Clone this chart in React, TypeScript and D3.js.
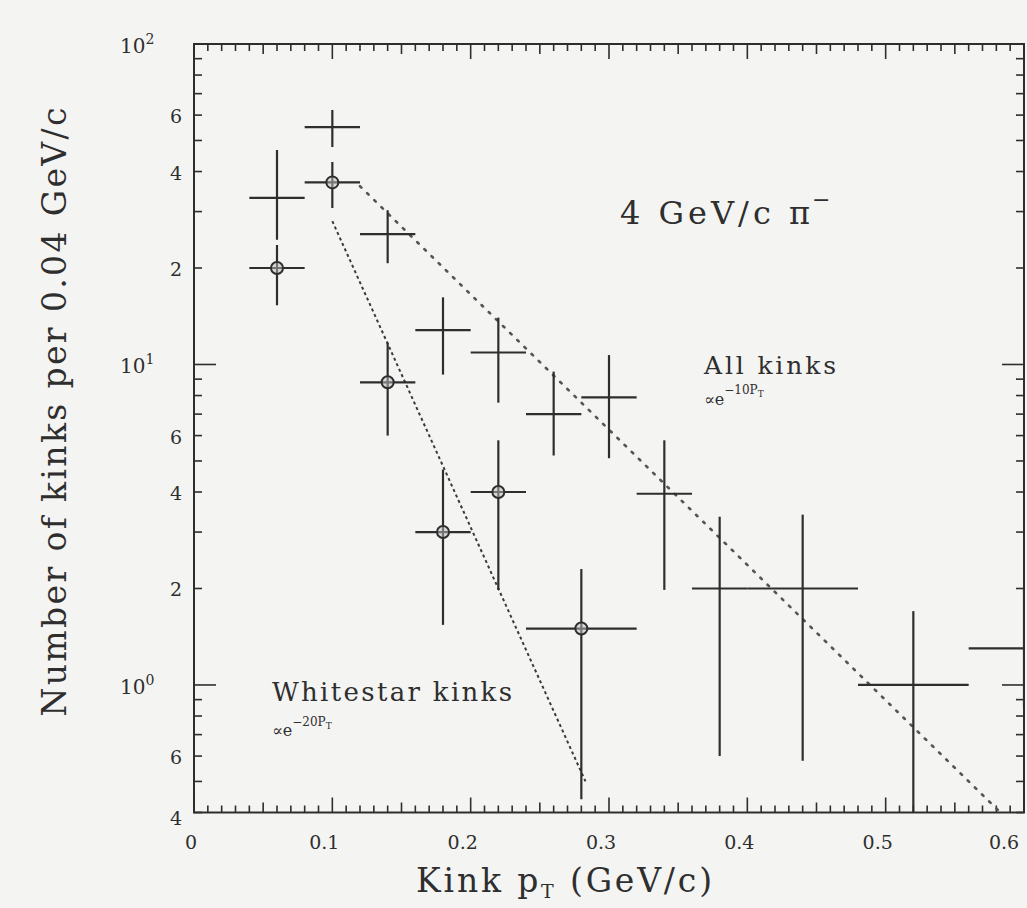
import React from "react";
import * as d3 from "d3";

// All kinks (crosses)
const allX = [0.06, 0.10, 0.14, 0.18, 0.22, 0.26, 0.30, 0.34, 0.38, 0.44, 0.52, 0.60];
const allXLo = [0.04, 0.08, 0.12, 0.16, 0.20, 0.24, 0.28, 0.32, 0.36, 0.40, 0.48, 0.56];
const allXHi = [0.08, 0.12, 0.16, 0.20, 0.24, 0.28, 0.32, 0.36, 0.40, 0.48, 0.56, 0.64];
const allY = [33.1, 55, 25.5, 12.8, 10.9, 7.0, 7.9, 3.95, 2.0, 2.0, 1.0, 1.3];
const allYLo = [24.5, 47.7, 20.7, 9.3, 7.6, 5.2, 5.1, 1.98, 0.6, 0.58, 0.38, 0.85];
const allYHi = [46.7, 62.2, 30.3, 16.2, 14.0, 9.5, 10.7, 5.8, 3.35, 3.4, 1.7, 2.0];

// Whitestar kinks (circles)
const wsX = [0.06, 0.10, 0.14, 0.18, 0.22, 0.28];
const wsXLo = [0.04, 0.08, 0.12, 0.16, 0.20, 0.24];
const wsXHi = [0.08, 0.12, 0.16, 0.20, 0.24, 0.32];
const wsY = [20, 37, 8.8, 3.0, 4.0, 1.5];
const wsYLo = [15.3, 30.8, 6.0, 1.54, 1.98, 0.44];
const wsYHi = [23.6, 42.8, 11.7, 4.7, 5.8, 2.3];

// Fit lines (end points, straight on log scale)
const fitAllX = [0.12, 0.583];
const fitAllY = [36, 0.4];
const fitWsX = [0.10, 0.283];
const fitWsY = [28, 0.5];

// Axis ticks
const xTickValues = [0, 0.1, 0.2, 0.3, 0.4, 0.5, 0.6];
const xTickLabels = ["0", "0.1", "0.2", "0.3", "0.4", "0.5", "0.6"];
const yDecades = [1, 10, 100];
const yDecadeExp = ["0", "1", "2"];
const yMinorLabeled = [0.4, 0.6, 2, 4, 6, 20, 40, 60];
const yMinorLabels = ["4", "6", "2", "4", "6", "2", "4", "6"];

const W = 1027;
const H = 908;
const L = 194, R = 1024, T = 44, B = 812.5;
const FONT = "'DejaVu Serif', 'Liberation Serif', serif";
const INK = "#2e2e2e";

export default function App() {
  const x = d3.scaleLinear().domain([0, 0.6]).range([L, R]);
  const y = d3.scaleLog().domain([0.4, 100]).range([B, T]);
  const xMinor = d3.range(0, 61).map((i) => i / 100);
  const yMinor = y.ticks();
  const line = d3
    .line<[number, number]>()
    .x((d) => x(d[0]))
    .y((d) => y(d[1]));
  const fitAll = fitAllX.map((v, i) => [v, fitAllY[i]] as [number, number]);
  const fitWs = fitWsX.map((v, i) => [v, fitWsY[i]] as [number, number]);

  return (
    <div>
      <style>{`body{margin:0;background:#f4f4f2}`}</style>
      <svg width={W} height={H} style={{ display: "block", background: "#f4f4f2" }}>
        <defs>
          <clipPath id="plotClip">
            <rect x={L} y={T} width={R - L} height={B - T} />
          </clipPath>
        </defs>

        {/* Frame */}
        <rect x={L} y={T} width={R - L} height={B - T} fill="none" stroke={INK} strokeWidth={2} />

        {/* X ticks bottom & top */}
        {xMinor.map((v, i) => {
          const len = i % 10 === 0 ? 15 : i % 5 === 0 ? 10 : 7;
          return (
            <g key={"xm" + i} stroke={INK} strokeWidth={1.6}>
              <line x1={x(v)} x2={x(v)} y1={B} y2={B - len} />
              <line x1={x(v)} x2={x(v)} y1={T} y2={T + len} />
            </g>
          );
        })}
        {/* Y ticks left & right */}
        {yMinor.map((v, i) => {
          const isDec = Math.abs(Math.log10(v) - Math.round(Math.log10(v))) < 1e-9;
          const len = isDec ? 22 : 8;
          return (
            <g key={"ym" + i} stroke={INK} strokeWidth={1.6}>
              <line x1={L} x2={L + len} y1={y(v)} y2={y(v)} />
              <line x1={R} x2={R - len} y1={y(v)} y2={y(v)} />
            </g>
          );
        })}

        {/* X tick labels */}
        {xTickValues.map((v, i) => (
          <text key={"xl" + i} x={x(v) - (i === 0 ? 3 : i === 6 ? 20 : 8)} y={849} textAnchor="middle"
            fontFamily={FONT} fontSize={19} fill={INK}>
            {xTickLabels[i]}
          </text>
        ))}
        {/* Y decade labels */}
        {yDecades.map((v, i) => (
          <text key={"yd" + i} x={120} y={y(v) + 9} fontFamily={FONT} fontSize={20} fill={INK}>
            10
            <tspan dy={-9} fontSize={14}>{yDecadeExp[i]}</tspan>
          </text>
        ))}
        {yMinorLabeled.map((v, i) => (
          <text key={"yl" + i} x={182} y={y(v) + 8 + (i === 0 ? 4 : 0)} textAnchor="end"
            fontFamily={FONT} fontSize={19} fill={INK}>
            {yMinorLabels[i]}
          </text>
        ))}

        {/* Axis titles */}
        <text transform={`translate(66,${412}) rotate(-90)`} textAnchor="middle"
          fontFamily={FONT} fontSize={33} fill={INK} textLength={609} lengthAdjust="spacing">
          Number of kinks per 0.04 GeV/c
        </text>
        <text x={416} y={892} fontFamily={FONT} fontSize={33} fill={INK} textLength={296} lengthAdjust="spacing">
          Kink p<tspan dy={6} fontSize={19}>T</tspan><tspan dy={-6}> (GeV/c)</tspan>
        </text>

        <g clipPath="url(#plotClip)">
          {/* Fit lines */}
          <path d={line(fitAll) || ""} fill="none" stroke="#555" strokeWidth={2.6}
            strokeDasharray="2 8" strokeLinecap="round" />
          <path d={line(fitWs) || ""} fill="none" stroke="#3a3a3a" strokeWidth={2}
            strokeDasharray="3 3" />

          {/* All kinks crosses */}
          {allX.map((v, i) => (
            <g key={"a" + i} stroke={INK} strokeWidth={2.2}>
              <line x1={x(allXLo[i])} x2={x(allXHi[i])} y1={y(allY[i])} y2={y(allY[i])} />
              <line x1={x(v)} x2={x(v)} y1={y(allYLo[i])} y2={y(allYHi[i])} />
            </g>
          ))}
          {/* Whitestar crosses with circles */}
          {wsX.map((v, i) => (
            <g key={"w" + i} stroke={INK} strokeWidth={2.2}>
              <line x1={x(wsXLo[i])} x2={x(wsXHi[i])} y1={y(wsY[i])} y2={y(wsY[i])} />
              <line x1={x(v)} x2={x(v)} y1={y(wsYLo[i])} y2={y(wsYHi[i])} />
              <circle cx={x(v)} cy={y(wsY[i])} r={6} fill="#bdbdbd" fillOpacity={0.5} strokeWidth={2} />
            </g>
          ))}
        </g>

        {/* Annotations */}
        <text x={620} y={224} fontFamily={FONT} fontSize={32} fill={INK} textLength={190} lengthAdjust="spacing">
          4 GeV/c π
        </text>
        <text x={812} y={207} fontFamily={FONT} fontSize={22} fill={INK}>−</text>
        <text x={704} y={374} fontFamily={FONT} fontSize={25} fill={INK} textLength={132} lengthAdjust="spacing">
          All kinks
        </text>
        <text x={704} y={405} fontFamily={FONT} fontSize={16} fill={INK}>
          ∝e<tspan dy={-11} fontSize={12}>−10P</tspan><tspan dy={3} fontSize={9}>T</tspan>
        </text>
        <text x={272} y={701} fontFamily={FONT} fontSize={26} fill={INK} textLength={240} lengthAdjust="spacing">
          Whitestar kinks
        </text>
        <text x={272} y={736} fontFamily={FONT} fontSize={16} fill={INK}>
          ∝e<tspan dy={-10} fontSize={12}>−20P</tspan><tspan dy={3} fontSize={9}>T</tspan>
        </text>
      </svg>
    </div>
  );
}
